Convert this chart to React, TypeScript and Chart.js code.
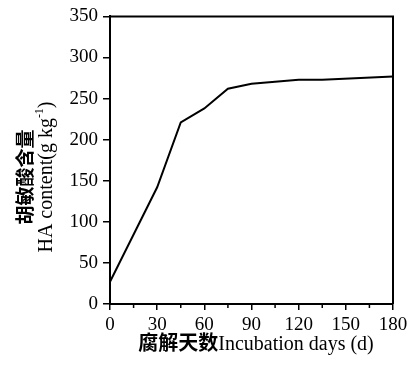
import React, { useEffect, useRef } from "react";
import { Chart, registerables } from "chart.js";

Chart.register(...registerables);

const days = [0, 30, 45, 60, 75, 90, 120, 135, 180];
const haContent = [27, 142, 221, 238, 262, 268, 273, 273, 277];
const xMin = 0;
const xMax = 180;
const xStep = 30;
const xMinorStep = 15;
const yMin = 0;
const yMax = 350;
const yStep = 50;
const xTitleCn = "腐解天数";
const xTitleEn = "Incubation days (d)";
const yTitleCn = "胡敏酸含量";
const yTitleEn = "HA content(g kg";
const yTitleSup = "-1";
const yTitleEnd = ")";

const SERIF = "'Liberation Serif', 'DejaVu Serif', serif";
const CJK = "'Noto Sans CJK SC', sans-serif";

const decorPlugin = {
  id: "decor",
  afterDraw(chart: any) {
    const ctx = chart.ctx;
    const { left, right, top, bottom } = chart.chartArea;
    const xs = chart.scales.x;
    ctx.save();
    // box
    ctx.strokeStyle = "#000";
    ctx.lineWidth = 2;
    ctx.beginPath();
    ctx.moveTo(left, top);
    ctx.lineTo(right, top);
    ctx.lineTo(right, bottom);
    ctx.stroke();
    // minor ticks on x
    ctx.lineWidth = 1.5;
    for (let v = xMin + xMinorStep; v < xMax; v += xStep) {
      const px = xs.getPixelForValue(v);
      ctx.beginPath();
      ctx.moveTo(px, bottom);
      ctx.lineTo(px, bottom + 4);
      ctx.stroke();
    }
    // x title
    ctx.fillStyle = "#000";
    ctx.textBaseline = "alphabetic";
    ctx.font = `bold 20px ${CJK}`;
    const cnW = ctx.measureText(xTitleCn).width;
    ctx.font = `20px ${SERIF}`;
    const enW = ctx.measureText(xTitleEn).width;
    const total = cnW + enW;
    const cx = 256;
    let x0 = cx - total / 2;
    ctx.textAlign = "left";
    ctx.font = `bold 20px ${CJK}`;
    ctx.fillText(xTitleCn, x0, 350);
    ctx.font = `20px ${SERIF}`;
    ctx.fillText(xTitleEn, x0 + cnW, 350);

    // y titles (rotated)
    const cy = 177;
    ctx.save();
    ctx.translate(32, cy);
    ctx.rotate(-Math.PI / 2);
    ctx.textAlign = "center";
    ctx.font = `bold 19px ${CJK}`;
    ctx.fillText(yTitleCn, 0, 0);
    ctx.restore();

    ctx.save();
    ctx.translate(52, cy);
    ctx.rotate(-Math.PI / 2);
    ctx.textAlign = "left";
    ctx.font = `20px ${SERIF}`;
    const w1 = ctx.measureText(yTitleEn).width;
    ctx.font = `12px ${SERIF}`;
    const w2 = ctx.measureText(yTitleSup).width;
    ctx.font = `20px ${SERIF}`;
    const w3 = ctx.measureText(yTitleEnd).width;
    const tw = w1 + w2 + w3;
    let sx = -tw / 2;
    ctx.fillText(yTitleEn, sx, 0);
    sx += w1;
    ctx.font = `12px ${SERIF}`;
    ctx.fillText(yTitleSup, sx, -9);
    sx += w2;
    ctx.font = `20px ${SERIF}`;
    ctx.fillText(yTitleEnd, sx, 0);
    ctx.restore();

    ctx.restore();
  },
};

export default function App() {
  const ref = useRef<HTMLCanvasElement>(null);
  useEffect(() => {
    document.body.style.margin = "0";
    const canvas = ref.current!;
    const chart = new Chart(canvas, {
      type: "line",
      data: {
        labels: days,
        datasets: [
          {
            data: days.map((d, i) => ({ x: d, y: haContent[i] })),
            borderColor: "#000",
            borderWidth: 2,
            pointRadius: 0,
            tension: 0,
            fill: false,
          },
        ],
      },
      options: {
        responsive: false,
        animation: false,
        layout: { padding: { top: 14, right: 20, left: 0, bottom: 0 } },
        plugins: { legend: { display: false }, tooltip: { enabled: false } },
        scales: {
          x: {
            type: "linear",
            min: xMin,
            max: xMax,
            afterFit: (s: any) => {
              s.height = 63;
            },
            ticks: {
              stepSize: xStep,
              color: "#000",
              font: { family: SERIF, size: 19 },
              padding: 4,
              maxRotation: 0,
            },
            grid: {
              drawOnChartArea: false,
              drawTicks: true,
              tickLength: 6,
              color: "#000",
              lineWidth: 1.5,
            },
            border: { display: true, color: "#000", width: 2 },
          },
          y: {
            min: yMin,
            max: yMax,
            afterFit: (s: any) => {
              s.width = 110;
            },
            ticks: {
              stepSize: yStep,
              color: "#000",
              font: { family: SERIF, size: 19 },
              padding: 5,
            },
            grid: {
              drawOnChartArea: false,
              drawTicks: true,
              tickLength: 7,
              color: "#000",
              lineWidth: 1.5,
            },
            border: { display: true, color: "#000", width: 2 },
          },
        },
      },
      plugins: [decorPlugin],
    });
    return () => chart.destroy();
  }, []);
  return (
    <div style={{ width: 413, height: 367 }}>
      <canvas ref={ref} width={413} height={367} style={{ display: "block" }} />
    </div>
  );
}
